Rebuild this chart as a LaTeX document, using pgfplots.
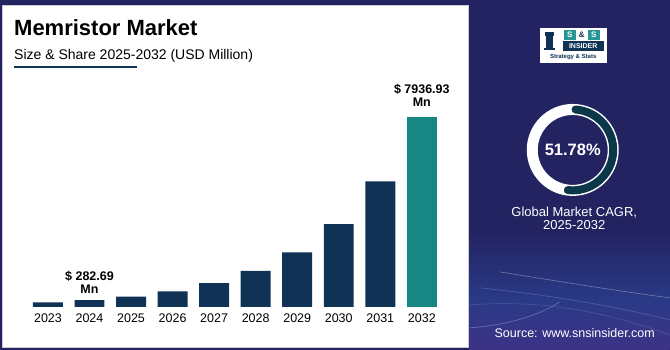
\documentclass[border=0pt]{standalone}
\usepackage{pgfplots}
\pgfplotsset{compat=1.18}
\usepackage{fontspec}
\setmainfont{Liberation Sans}
\definecolor{bg}{RGB}{35,35,97}
\definecolor{bgmid}{RGB}{42,58,135}
\definecolor{bgbot}{RGB}{62,50,135}
\definecolor{barnavy}{RGB}{16,50,84}
\definecolor{barteal}{RGB}{22,135,130}
\definecolor{ringdark}{RGB}{11,56,72}
\definecolor{logoteal}{RGB}{40,150,150}
\begin{document}
\begin{tikzpicture}[x=1pt,y=1pt]
% background
\fill[bg] (0,0) rectangle (670,350);
\shade[top color=bg, bottom color=bgmid] (469,120) rectangle (670,50);
\shade[top color=bgmid, bottom color=bgbot] (469,50) rectangle (670,0);
\draw[white, opacity=0.35, line width=0.6pt] (500,78) .. controls (550,70) and (610,60) .. (670,52);
\draw[white, opacity=0.3, line width=0.6pt] (470,22) .. controls (510,25) and (540,35) .. (560,48);
\draw[white, opacity=0.2, line width=0.6pt] (480,62) .. controls (540,56) and (610,45) .. (670,30);
\draw[white, opacity=0.15, line width=0.6pt] (470,45) .. controls (540,50) and (600,40) .. (670,15);
% white panel
\fill[white] (2,2) rectangle (469,345);
\draw[gray!40, line width=0.8pt] (2,2) rectangle (469,345);
% title
\node[anchor=base west, inner sep=0pt, font=\fontsize{22}{24}\selectfont\bfseries] at (14,314) {Memristor Market};
\node[anchor=base west, inner sep=0pt, font=\fontsize{14}{16}\selectfont] at (14,290) {Size \& Share 2025-2032 (USD Million)};
\draw[barnavy, line width=1.5pt] (14,283) -- (137,283);
% chart
\begin{axis}[
  at={(27.2pt,43pt)}, anchor=south west,
  scale only axis, width=415.6pt, height=191.5pt,
  xmin=-0.5, xmax=9.5, ymin=0, ymax=8000,
  axis line style={draw=none},
  tick style={draw=none},
  ytick=\empty,
  xtick={0,...,9},
  xticklabels={2023,2024,2025,2026,2027,2028,2029,2030,2031,2032},
  xticklabel style={font=\fontsize{12.5}{14}\selectfont, yshift=-3pt},
  clip=false,
]
\addplot[ybar, bar shift=0pt, bar width=30pt, fill=barnavy, draw=none] coordinates {
  (0,186.2) (1,282.69) (2,429.0) (3,651.2) (4,988.4) (5,1500.2) (6,2277.1) (7,3456.3) (8,5246.2)};
\addplot[ybar, bar shift=0pt, bar width=30pt, fill=barteal, draw=none] coordinates {(9,7936.93)};
\node[anchor=south, align=center, inner sep=0pt, font=\fontsize{12.5}{13}\selectfont\bfseries, yshift=6pt] at (axis cs:1,282.69) {\$ 282.69\\Mn};
\node[anchor=south, align=center, inner sep=0pt, font=\fontsize{12.5}{13}\selectfont\bfseries, yshift=10pt] at (axis cs:9,7936.93) {\$ 7936.93\\Mn};
\end{axis}
% logo
\fill[white] (540,287) rectangle (607,322);
\fill[barnavy] (546,300) rectangle (553,314);
\fill[barnavy] (544,300) rectangle (555,302);
\fill[barnavy] (545,314) rectangle (554,318);
\fill[logoteal] (564,310) rectangle (576,320);
\fill[logoteal] (588,310) rectangle (600,320);
\node[font=\fontsize{8}{8}\selectfont\bfseries, white] at (570,315) {S};
\node[font=\fontsize{8}{8}\selectfont\bfseries, barnavy] at (582,315) {\&};
\node[font=\fontsize{8}{8}\selectfont\bfseries, white] at (594,315) {S};
\fill[barnavy] (563,299) rectangle (604,309);
\node[font=\fontsize{7}{7}\selectfont\bfseries, white] at (583.5,304) {INSIDER};
\node[font=\fontsize{6}{6}\selectfont\bfseries, barnavy] at (573.5,293) {Strategy \& Stats};
% donut
\fill[white, even odd rule] (573,200) circle (46) (573,200) circle (35);
\draw[ringdark, line width=8pt, line cap=round] (573,200) ++(86:40.5) arc (86:-97:40.5);
\node[white, font=\fontsize{16.5}{18}\selectfont\bfseries] at (573,200) {51.78\%};
\node[white, anchor=base, font=\fontsize{13}{15}\selectfont] at (574.5,133) {Global Market CAGR,};
\node[white, anchor=base, font=\fontsize{13}{15}\selectfont] at (574.5,120) {2025-2032};
\node[white, anchor=base, font=\fontsize{12.5}{14}\selectfont] at (575,12) {Source: www.snsinsider.com};
\end{tikzpicture}
\end{document}
